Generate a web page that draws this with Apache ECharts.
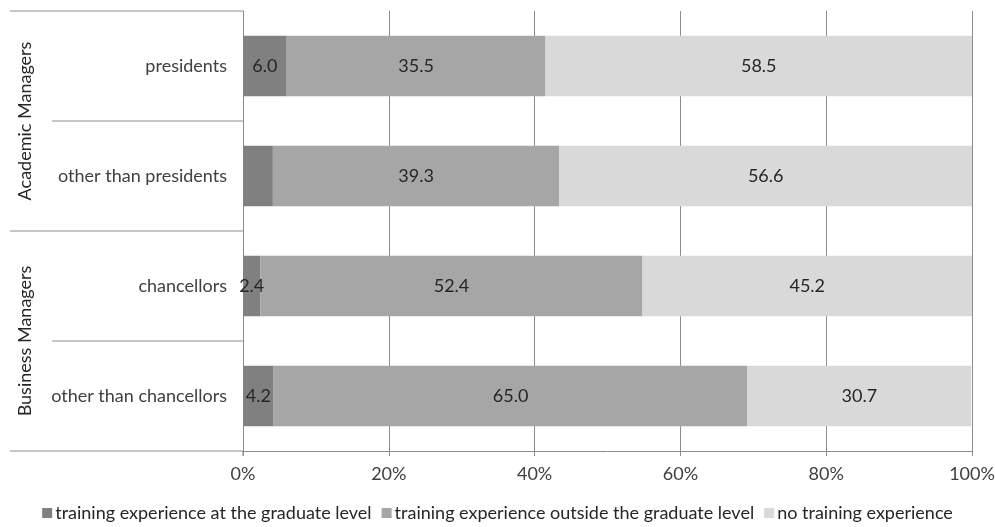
<!DOCTYPE html>
<html>
<head>
<meta charset="utf-8">
<script src="https://cdn.jsdelivr.net/npm/echarts@6/dist/echarts.min.js"></script>
<style>
  html, body { margin: 0; padding: 0; background: #fff; }
  #chart { width: 995px; height: 527px; }
</style>
</head>
<body>
<div id="chart"></div>
<script>
// Managers, top to bottom
const categories = ['presidents', 'other than presidents', 'chancellors', 'other than chancellors'];
const groups = ['Academic Managers', 'Business Managers'];
const groupSizes = [2, 2];

// Shares of each training background (%)
const seriesNames = [
  'training experience at the graduate level',
  'training experience outside the graduate level',
  'no training experience'
];
const atGraduate = [6.0, 4.1, 2.4, 4.2];
const outsideGraduate = [35.5, 39.3, 52.4, 65.0];
const noTraining = [58.5, 56.6, 45.2, 30.7];
// values whose labels are left out
const hiddenLabels = [[1], [], []];

const tickLabels = ['0%', '20%', '40%', '60%', '80%', '100%'];

const colors = ['#808080', '#a6a6a6', '#d9d9d9'];
const FONT = 'Lato';
const FS = 18;
const lineColor = '#8c8c8c';

const chart = echarts.init(document.getElementById('chart'));

function makeSeries(name, values, idx) {
  return {
    name: name,
    type: 'bar',
    stack: 'total',
    barCategoryGap: '45%',
    itemStyle: { color: colors[idx] },
    label: {
      show: true,
      position: 'inside',
      fontFamily: FONT,
      fontSize: FS,
      color: '#262626',
      formatter: p => p.value.toFixed(1)
    },
    data: values.map((v, i) => hiddenLabels[idx].includes(i)
      ? { value: v, label: { show: false } }
      : v)
  };
}

chart.setOption({
  animation: false,
  textStyle: { fontFamily: FONT },
  grid: { left: 243, right: 23, top: 11, bottom: 76, containLabel: false, outerBoundsMode: 'none' },
  xAxis: {
    type: 'value',
    min: 0,
    max: 100,
    interval: 20,
    axisLine: { show: true, lineStyle: { color: lineColor, width: 1 } },
    axisTick: { show: true, length: 5, lineStyle: { color: lineColor } },
    splitLine: { show: true, lineStyle: { color: lineColor, width: 1 } },
    axisLabel: {
      fontFamily: FONT, fontSize: FS, color: '#404040', margin: 14,
      formatter: v => tickLabels[v / 20]
    }
  },
  yAxis: {
    type: 'category',
    inverse: true,
    data: categories,
    axisLine: { show: true, lineStyle: { color: lineColor, width: 1 } },
    axisTick: { show: false },
    axisLabel: { fontFamily: FONT, fontSize: FS, color: '#404040', margin: 16 }
  },
  legend: {
    bottom: 0,
    left: 'center',
    itemWidth: 10,
    itemHeight: 10,
    itemGap: 10,
    icon: 'rect',
    textStyle: { fontFamily: FONT, fontSize: FS, color: '#262626', padding: [0, 0, 0, -2] },
    data: seriesNames
  },
  series: [
    makeSeries(seriesNames[0], atGraduate, 0),
    makeSeries(seriesNames[1], outsideGraduate, 1),
    makeSeries(seriesNames[2], noTraining, 2)
  ]
});

// Multi-level category dividers and rotated group titles
function drawGroups() {
  const band = (chart.convertToPixel({ yAxisIndex: 0 }, categories[1]) -
                chart.convertToPixel({ yAxisIndex: 0 }, categories[0]));
  const yTop = chart.convertToPixel({ yAxisIndex: 0 }, categories[0]) - band / 2;
  const xAxisX = chart.convertToPixel({ xAxisIndex: 0 }, 0);
  const outerLeft = 10, innerLeft = 52;
  const elements = [];
  // vertical axis extension below the plot
  elements.push({
    type: 'line',
    shape: { x1: xAxisX, y1: yTop + band * categories.length, x2: xAxisX, y2: yTop + band * categories.length + 5 },
    style: { stroke: lineColor, lineWidth: 1 }
  });
  let start = 0;
  groups.forEach((g, gi) => {
    const y0 = yTop + start * band;
    const y1 = yTop + (start + groupSizes[gi]) * band;
    elements.push({
      type: 'line',
      shape: { x1: outerLeft, y1: y0, x2: xAxisX, y2: y0 },
      style: { stroke: lineColor, lineWidth: 1 }
    });
    for (let k = 1; k < groupSizes[gi]; k++) {
      const yy = y0 + k * band;
      elements.push({
        type: 'line',
        shape: { x1: innerLeft, y1: yy, x2: xAxisX, y2: yy },
        style: { stroke: lineColor, lineWidth: 1 }
      });
    }
    elements.push({
      type: 'text',
      x: 25,
      y: (y0 + y1) / 2,
      rotation: Math.PI / 2,
      style: {
        text: g,
        fontFamily: FONT,
        fontSize: FS,
        fill: '#262626',
        align: 'center',
        verticalAlign: 'middle'
      }
    });
    start += groupSizes[gi];
  });
  const yEnd = yTop + categories.length * band;
  elements.push({
    type: 'line',
    shape: { x1: outerLeft, y1: yEnd, x2: xAxisX, y2: yEnd },
    style: { stroke: lineColor, lineWidth: 1 }
  });
  chart.setOption({ graphic: elements });
}
drawGroups();
</script>
</body>
</html>
